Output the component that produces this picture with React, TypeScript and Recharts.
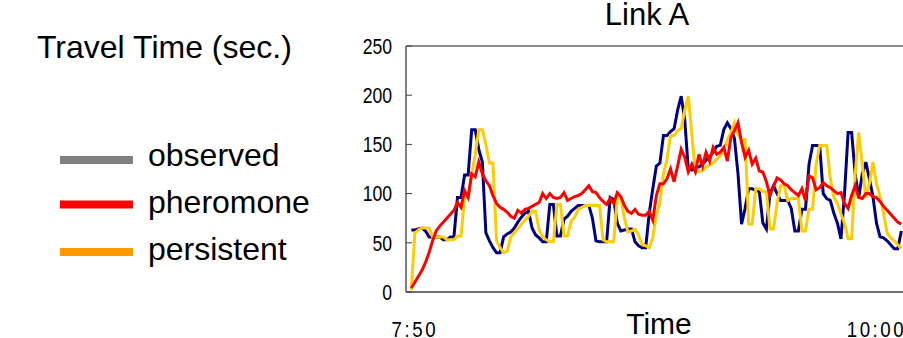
import React from "react";
import { LineChart, Line, XAxis, YAxis, ReferenceLine } from "recharts";

// minutes after 7:50, one sample per minute
const startMinute = -1;

const observed = [
  63, 63, 64, 65, 62, 56, 56, 56, 56, 53, 53,
  56, 56, 96, 96, 119, 119, 165, 165, 145, 132,
  60, 52, 45, 40, 40, 56, 59, 61, 65, 71,
  76, 80, 82, 65, 58, 55, 51, 51, 89, 89,
  57, 57, 74, 77, 82, 85, 88, 88, 88, 88,
  75, 52, 51, 51, 51, 96, 94, 70, 62, 63,
  64, 64, 51, 47, 45, 45, 80, 105, 128, 131,
  159, 159, 163, 166, 185, 199, 175, 125, 124, 127,
  127, 130, 134, 137, 142, 148, 149, 165, 172, 166,
  156, 120, 69, 85, 105, 105, 103, 102, 70, 64,
  100, 108, 100, 93, 93, 93, 85, 62, 62, 84,
  84, 130, 149, 149, 149, 100, 95, 93, 80, 70,
  54, 100, 162, 162, 120, 96, 120, 132, 115, 97,
  70, 56, 55, 52, 48, 44, 44, 62,
];

const pheromone = [
  4, 10, 16, 22, 30, 40, 52, 62, 67, 71, 75,
  79, 83, 91, 86, 103, 96, 120, 117, 132, 120,
  113, 108, 98, 90, 86, 84, 81, 77, 75, 83,
  80, 84, 85, 87, 89, 91, 100, 95, 100, 96,
  95, 96, 101, 93, 95, 97, 98, 100, 104, 108,
  102, 101, 96, 92, 89, 95, 90, 101, 97, 88,
  82, 80, 84, 79, 78, 78, 82, 73, 98, 110,
  110, 115, 125, 112, 128, 145, 137, 122, 130, 122,
  140, 128, 142, 133, 147, 140, 142, 147, 133, 157,
  164, 172, 152, 137, 144, 130, 136, 123, 122, 112,
  98, 107, 116, 114, 110, 108, 104, 101, 98, 105,
  93, 118, 116, 104, 106, 111, 108, 106, 103, 100,
  101, 90, 85, 98, 108, 96, 95, 100, 100, 97,
  96, 92, 87, 83, 79, 75, 71, 69,
];

const persistent = [
  2, 60, 63, 65, 65, 65, 56, 56, 56, 56, 53,
  53, 53, 57, 57, 96, 96, 119, 140, 165, 165,
  150, 131, 131, 52, 45, 40, 41, 56, 60, 64,
  69, 73, 77, 82, 82, 63, 56, 53, 51, 51,
  89, 89, 57, 57, 72, 76, 84, 86, 88, 88,
  88, 88, 88, 53, 51, 51, 51, 96, 96, 75,
  61, 62, 64, 58, 48, 47, 45, 55, 78, 90,
  120, 135, 159, 159, 164, 166, 185, 199, 160, 122,
  123, 123, 127, 129, 131, 135, 138, 145, 155, 162,
  172, 160, 155, 155, 69, 69, 105, 105, 102, 102,
  64, 64, 90, 108, 108, 93, 95, 95, 95, 62,
  62, 84, 84, 130, 149, 149, 149, 115, 96, 90,
  79, 70, 54, 54, 120, 162, 130, 96, 110, 132,
  110, 97, 80, 60, 55, 52, 48, 44,
];

const yTicks = [0, 50, 100, 150, 200, 250];
const xTickValues = [0, 130];
const xTickLabels = ["7:50", "10:00"];
const titleText = "Link A";
const yTitleText = "Travel Time (sec.)";
const xTitleText = "Time";
const legendLabels = ["observed", "pheromone", "persistent"];
const legendColors = ["#808080", "#ff0000", "#ff9900"];
const seriesKeys = ["observed", "persistent", "pheromone"];
const seriesColors = ["#000080", "#ffcc00", "#ff0000"];

const data = observed.map((v, i) => ({
  t: startMinute + i,
  observed: v,
  pheromone: pheromone[i],
  persistent: persistent[i],
}));

const sans = "'Liberation Sans', Arial, sans-serif";

const YTick = (props: any) => {
  const { x, y, payload } = props;
  return (
    <text
      x={0}
      y={0}
      dy="0.355em"
      transform={`translate(${x},${y}) scale(0.8,1)`}
      textAnchor="end"
      fontSize={22}
      fontFamily={sans}
      fill="#000"
    >
      {payload.value}
    </text>
  );
};

const XTick = (props: any) => {
  const { x, y, payload } = props;
  const label = xTickLabels[xTickValues.indexOf(payload.value)];
  return (
    <text
      x={0}
      y={0}
      dy="0.71em"
      transform={`translate(${x},${y}) scale(0.85,1)`}
      textAnchor="middle"
      fontSize={22}
      fontFamily={sans}
      letterSpacing={3}
      fill="#000"
    >
      {label}
    </text>
  );
};

export default function App() {
  return (
    <div
      style={{
        position: "absolute",
        left: 0,
        top: 0,
        width: 903,
        height: 338,
        overflow: "hidden",
        background: "#fff",
      }}
    >
      <LineChart
        width={930}
        height={338}
        data={data}
        margin={{ top: 46, right: 18, bottom: 16, left: 346 }}
      >
        <ReferenceLine y={250} stroke="#8c8c8c" strokeWidth={2} />
        <XAxis
          type="number"
          dataKey="t"
          domain={[-2.5, 140]}
          ticks={xTickValues}
          interval={0}
          tickLine={false}
          tickSize={0}
          tickMargin={29}
          height={30}
          axisLine={{ stroke: "#404040", strokeWidth: 1.5 }}
          tick={<XTick />}
          allowDataOverflow
          label={{
            value: xTitleText,
            position: "bottom",
            offset: -9,
            fontSize: 30,
            fill: "#000",
            fontFamily: sans,
          }}
        />
        <YAxis
          type="number"
          domain={[0, 250]}
          ticks={yTicks}
          interval={0}
          width={60}
          tickSize={-6}
          tickMargin={20}
          tickLine={{ stroke: "#404040", strokeWidth: 1 }}
          axisLine={{ stroke: "#808080", strokeWidth: 2 }}
          tick={<YTick />}
        />
        {seriesKeys.map((k, i) => (
          <Line
            key={k}
            type="linear"
            dataKey={k}
            stroke={seriesColors[i]}
            strokeWidth={3}
            dot={false}
            activeDot={false}
            isAnimationActive={false}
          />
        ))}
      </LineChart>
      <svg
        width={903}
        height={338}
        style={{ position: "absolute", left: 0, top: 0, pointerEvents: "none" }}
      >
        <text x={647} y={25} fontSize={31} fontFamily={sans} textAnchor="middle" fill="#000">
          {titleText}
        </text>
        <text x={37} y={58} fontSize={32} fontFamily={sans} fill="#000">
          {yTitleText}
        </text>
        {legendLabels.map((lab, i) => {
          const cy = [160, 204.5, 252][i];
          const by = [166, 213, 260][i];
          return (
            <g key={lab}>
              <line x1={60} x2={133} y1={cy} y2={cy} stroke={legendColors[i]} strokeWidth={8} />
              <text x={148} y={by} fontSize={32} fontFamily={sans} fill="#000">
                {lab}
              </text>
            </g>
          );
        })}
      </svg>
    </div>
  );
}
